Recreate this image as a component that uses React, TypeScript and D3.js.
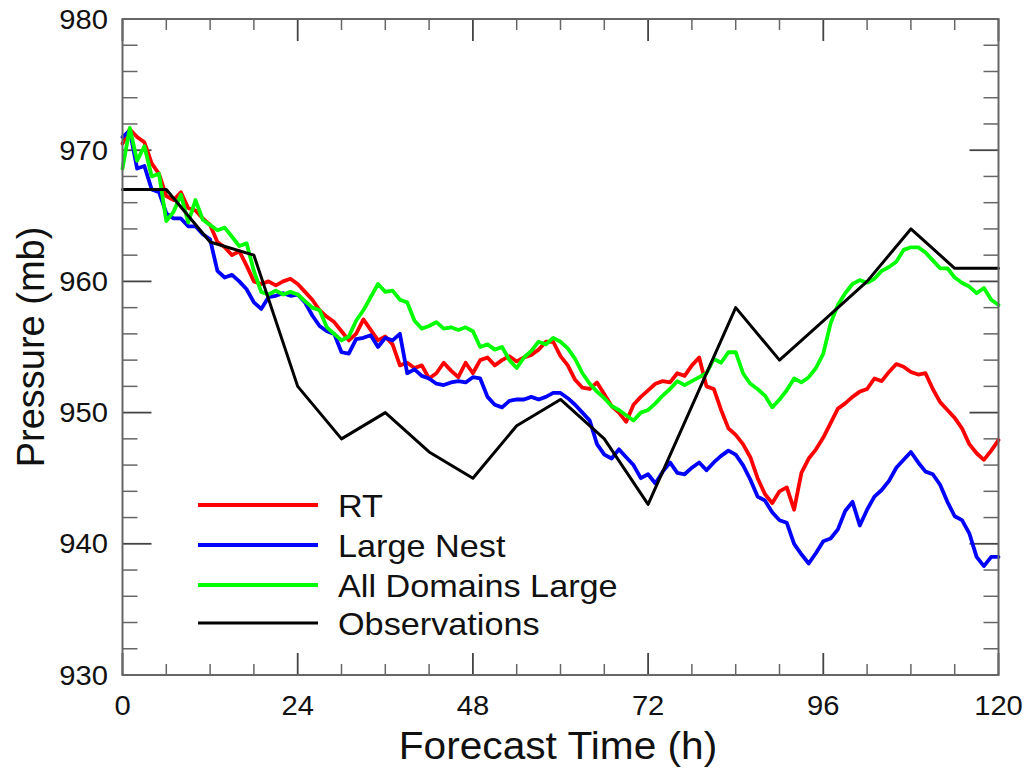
import React from "react";
import * as d3 from "d3";

const hours: number[] = Array.from({ length: 121 }, (_, i) => i);

const rtValues: number[] = [
  970.5, 971.6, 971.0, 970.6, 969.0, 968.2, 966.5, 966.2, 966.8, 965.6,
  965.4, 964.8, 964.3, 963.0, 962.6, 962.0, 962.3, 961.2, 960.0, 959.8,
  960.0, 959.7, 960.0, 960.2, 959.8, 959.2, 958.6, 957.8, 957.3, 956.9,
  956.2, 955.5, 956.0, 957.1, 956.3, 955.5, 955.8, 955.2, 953.6, 953.8,
  953.4, 953.6, 952.6, 953.0, 953.8, 953.2, 952.7, 953.8, 953.0, 954.0,
  954.2, 953.6, 954.0, 954.3, 953.9, 954.2, 954.4, 954.8, 955.4, 955.4,
  954.3, 953.6, 952.5, 951.9, 951.8, 952.3, 951.4, 950.5, 950.0, 949.3,
  950.6, 951.2, 951.7, 952.2, 952.4, 952.3, 953.0, 952.8, 953.6, 954.2,
  952.0, 951.8, 950.2, 948.8, 948.3, 947.6, 946.6, 945.0, 943.8, 943.1,
  944.0, 944.3, 942.6, 945.4, 946.5, 947.2, 948.1, 949.2, 950.3, 950.7,
  951.2, 951.6, 951.8, 952.6, 952.4, 953.1, 953.7, 953.5, 953.1, 952.9,
  953.0, 951.8, 950.8, 950.2, 949.6, 948.8, 947.6, 946.9, 946.4, 947.1,
  947.9,
];

const largeNestValues: number[] = [
  971.0, 971.5, 968.6, 968.8, 967.0, 966.8, 965.2, 964.8, 964.8, 964.2,
  964.2, 963.6, 963.2, 960.8, 960.3, 960.5, 960.0, 959.4, 958.4, 957.9,
  958.8, 958.9, 959.1, 958.9, 959.0, 958.4, 957.4, 956.6, 956.2, 956.0,
  954.6, 954.5, 955.6, 955.7, 955.9, 955.0, 955.7, 955.5, 956.0, 953.0,
  953.3, 952.8, 952.6, 952.2, 952.1, 952.3, 952.4, 952.3, 952.7, 952.6,
  951.2, 950.6, 950.4, 950.9, 951.0, 951.0, 951.2, 951.0, 951.2, 951.5,
  951.5, 951.1, 950.6, 950.0, 949.4, 947.6, 946.8, 946.5, 947.2, 946.6,
  946.0, 945.0, 945.3, 944.6, 945.5, 946.2, 945.4, 945.3, 945.8, 946.2,
  945.6, 946.2, 946.7, 947.1, 946.8, 946.0, 944.9, 943.6, 943.3, 942.4,
  941.8, 941.6, 940.0, 939.2, 938.5, 939.3, 940.2, 940.4, 941.1, 942.5,
  943.2, 941.4, 942.6, 943.6, 944.1, 944.8, 945.8, 946.4, 947.0, 946.2,
  945.5, 945.3, 944.5, 943.2, 942.1, 941.8, 940.8, 939.0, 938.3, 939.0,
  939.0,
];

const allDomainsValues: number[] = [
  968.6, 971.7, 969.2, 970.3, 968.0, 968.2, 964.6, 965.3, 966.6, 964.5,
  966.2, 964.7, 964.3, 963.9, 964.1, 963.4, 962.7, 962.9, 960.8, 959.2,
  959.0, 959.3, 959.0, 959.2, 959.0, 958.5, 958.0, 957.8, 956.5, 956.0,
  955.5, 955.8, 957.0, 957.8, 958.8, 959.8, 959.2, 959.3, 958.6, 958.4,
  957.0, 956.4, 956.6, 956.9, 956.4, 956.5, 956.3, 956.5, 956.2, 955.0,
  955.2, 954.8, 955.0, 954.0, 953.4, 954.2, 954.7, 955.4, 955.2, 955.7,
  955.4, 954.9, 954.1, 953.0, 952.2, 951.6, 951.1, 950.5, 950.2, 949.8,
  949.4, 950.0, 950.2, 950.7, 951.3, 951.8, 952.4, 952.1, 952.4, 952.7,
  953.0, 954.1, 953.8, 954.6, 954.6, 953.0, 952.2, 951.8, 951.3, 950.4,
  951.0, 951.7, 952.6, 952.3, 952.7, 953.4, 954.5, 956.8, 958.2, 959.1,
  959.8, 960.1, 959.9, 960.2, 960.8, 961.1, 961.5, 962.4, 962.6, 962.6,
  962.2, 961.6, 961.0, 961.0, 960.3, 959.9, 959.6, 959.1, 959.5, 958.6,
  958.2,
];

const obsHours: number[] = [0, 6, 12, 18, 24, 30, 36, 42, 48, 54, 60, 66, 72, 78, 84, 90, 96, 102, 108, 114, 120];
const obsValues: number[] = [967, 967, 963, 962, 952, 948, 950, 947, 945, 949, 951, 948, 943, 950.5, 958, 954, 957, 960, 964, 961, 961];

const xTicks: number[] = [0, 24, 48, 72, 96, 120];
const yTicks: number[] = [930, 940, 950, 960, 970, 980];
const seriesNames: string[] = ["RT", "Large Nest", "All Domains Large", "Observations"];
const seriesColors: string[] = ["#ff0000", "#0000ff", "#00ff00", "#000000"];

export default function App() {
  const W = 1027;
  const H = 770;
  const left = 122.5;
  const right = 998.5;
  const top = 19;
  const bottom = 675;

  const x = d3.scaleLinear().domain([0, 120]).range([left, right]);
  const y = d3.scaleLinear().domain([930, 980]).range([bottom, top]);

  const line = d3
    .line<[number, number]>()
    .x((d) => x(d[0]))
    .y((d) => y(d[1]));

  const series = [
    hours.map((h, i) => [h, rtValues[i]] as [number, number]),
    hours.map((h, i) => [h, largeNestValues[i]] as [number, number]),
    hours.map((h, i) => [h, allDomainsValues[i]] as [number, number]),
    obsHours.map((h, i) => [h, obsValues[i]] as [number, number]),
  ];

  const xMinor = d3.range(0, 121, 6).filter((v) => v % 24 !== 0);
  const yMinor = d3.range(930, 981, 2).filter((v) => v % 10 !== 0);
  const axisColor = "#666";
  const font = "Liberation Sans, Arial, sans-serif";

  const legendRows = [505, 545, 585, 623];

  return (
    <svg
      width={W}
      height={H}
      style={{ position: "absolute", left: 0, top: 0, background: "#fff" }}
      fontFamily={font}
    >
      <rect x={0} y={0} width={W} height={H} fill="#fff" />
      {xMinor.map((v) => (
        <g key={"xm" + v} stroke={axisColor} strokeWidth={1.5}>
          <line x1={x(v)} x2={x(v)} y1={bottom} y2={bottom - 11} />
          <line x1={x(v)} x2={x(v)} y1={top} y2={top + 11} />
        </g>
      ))}
      {xTicks.map((v) => (
        <g key={"xM" + v} stroke="#444" strokeWidth={1.8}>
          <line x1={x(v)} x2={x(v)} y1={bottom} y2={bottom - 22} />
          <line x1={x(v)} x2={x(v)} y1={top} y2={top + 22} />
        </g>
      ))}
      {yMinor.map((v) => (
        <g key={"ym" + v} stroke={axisColor} strokeWidth={1.5}>
          <line x1={left} x2={left + 15} y1={y(v)} y2={y(v)} />
          <line x1={right} x2={right - 15} y1={y(v)} y2={y(v)} />
        </g>
      ))}
      {yTicks.map((v) => (
        <g key={"yM" + v} stroke="#444" strokeWidth={1.8}>
          <line x1={left} x2={left + 29} y1={y(v)} y2={y(v)} />
          <line x1={right} x2={right - 29} y1={y(v)} y2={y(v)} />
        </g>
      ))}
      {series.map((s, i) => (
        <path
          key={"s" + i}
          d={line(s) || ""}
          fill="none"
          stroke={seriesColors[i]}
          strokeWidth={i === 3 ? 3 : 3.8}
          strokeLinejoin="round"
          strokeLinecap="round"
        />
      ))}
      <rect
        x={left}
        y={top}
        width={right - left}
        height={bottom - top}
        fill="none"
        stroke={axisColor}
        strokeWidth={2}
      />
      {xTicks.map((v) => (
        <text
          key={"xl" + v}
          transform={`translate(${x(v)}, 715) scale(1.08, 1)`}
          textAnchor="middle"
          fontSize={27}
          fill="#111"
        >
          {v}
        </text>
      ))}
      {yTicks.map((v) => (
        <text
          key={"yl" + v}
          transform={`translate(108, ${y(v) + 9.5}) scale(1.08, 1)`}
          textAnchor="end"
          fontSize={27}
          fill="#111"
        >
          {v}
        </text>
      ))}
      <text
        transform="translate(558, 759) scale(1.07, 1)"
        textAnchor="middle"
        fontSize={38}
        fill="#111"
      >
        Forecast Time (h)
      </text>
      <text
        transform={`translate(44, 347) rotate(-90)`}
        textAnchor="middle"
        fontSize={38}
        fill="#111"
      >
        Pressure (mb)
      </text>
      {seriesNames.map((name, i) => (
        <g key={"lg" + i}>
          <line
            x1={198}
            x2={318}
            y1={legendRows[i]}
            y2={legendRows[i]}
            stroke={seriesColors[i]}
            strokeWidth={i === 3 ? 3 : 3.8}
          />
          <text
            transform={`translate(338, ${legendRows[i] + 11.5}) scale(1.07, 1)`}
            fontSize={32}
            fill="#111"
          >
            {name}
          </text>
        </g>
      ))}
    </svg>
  );
}
